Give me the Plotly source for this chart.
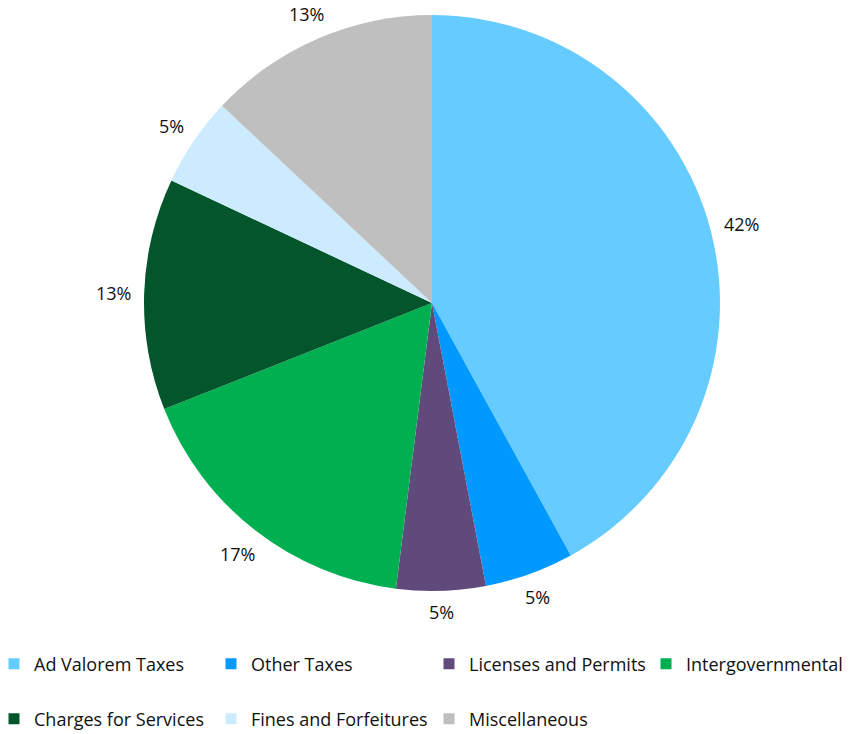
import math
import plotly.graph_objects as go

# Revenue sources and their shares (percent)
categories = ["Ad Valorem Taxes", "Other Taxes", "Licenses and Permits", "Intergovernmental",
              "Charges for Services", "Fines and Forfeitures", "Miscellaneous"]
shares = [42, 5, 5, 17, 13, 5, 13]
colors = ["#66CCFF", "#0099FF", "#604A7B", "#00B050", "#03562B", "#CCEBFF", "#BFBFBF"]

W, H = 849, 734
FONT = "'Open Sans', Carlito, Lato, sans-serif"
TEXT_COLOR = "#111111"

# pie placement in pixels
cx, cy, R = 432, 303, 288

fig = go.Figure()
fig.add_trace(go.Pie(
    labels=categories, values=shares, sort=False, direction="clockwise", rotation=0,
    marker=dict(colors=colors, line=dict(width=0)),
    textinfo="none", hoverinfo="label+percent", showlegend=False,
    domain=dict(x=[(cx - R) / W, (cx + R) / W], y=[1 - (cy + R) / H, 1 - (cy - R) / H]),
))

# percentage labels just outside each slice, at the slice's mid-angle
total = sum(shares)
cum = 0
annotations = []
for v in shares:
    mid = (cum + v / 2) / total * 2 * math.pi
    cum += v
    ux, uy = math.sin(mid), -math.cos(mid)
    text = f"{round(v / total * 100)}%"
    tw = 12 * len(text)
    r = R + 12 + abs(ux) * tw / 2 + abs(uy) * 9
    annotations.append(dict(
        x=(cx + r * ux) / W, y=1 - (cy + r * uy) / H, xref="paper", yref="paper",
        text=text, showarrow=False, xanchor="center", yanchor="middle",
        font=dict(family=FONT, size=18, color=TEXT_COLOR),
    ))

# one legend per entry: four on the first row, three on the second
col_x = [31, 248, 466, 683]   # where each entry's text begins
row_y = [664, 719]
layout_legends = {}
for i, (name, col) in enumerate(zip(categories, colors)):
    key = "legend" if i == 0 else f"legend{i + 1}"
    fig.add_trace(go.Scatter(
        x=[None], y=[None], mode="markers", name=name,
        marker=dict(symbol="square", size=11, color=col),
        legend=key,
    ))
    row, c = divmod(i, 4)
    layout_legends[key] = dict(
        x=(col_x[c] - 37) / W, y=1 - row_y[row] / H, xanchor="left", yanchor="middle",
        orientation="h", bgcolor="rgba(0,0,0,0)", borderwidth=0,
        font=dict(family=FONT, size=18, color=TEXT_COLOR),
        itemclick=False, itemdoubleclick=False,
    )

fig.update_layout(
    width=W, height=H,
    margin=dict(l=0, r=0, t=0, b=0, autoexpand=False),
    paper_bgcolor="white", plot_bgcolor="white",
    xaxis=dict(visible=False), yaxis=dict(visible=False),
    annotations=annotations,
    **layout_legends,
)

fig.write_html("out.html")
